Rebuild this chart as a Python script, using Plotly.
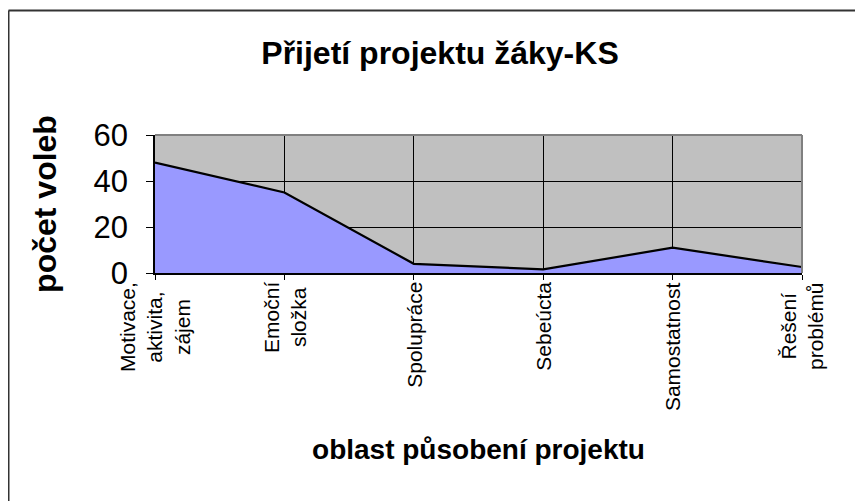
import plotly.graph_objects as go

categories = ["Motivace,<br>aktivita,<br>zájem", "Emoční<br>složka", "Spolupráce",
              "Sebeúcta", "Samostatnost", "Řešení<br>problémů"]
values = [48, 35, 4, 1.6, 11, 2.6]
y_ticks = [0, 20, 40, 60]

W, H = 863, 501
OFF = 8  # page body margin offset
L, R, T, B = 155 - OFF, 863 - 802 + OFF, 135 - OFF, 501 - 273 + OFF
pw, ph = W - L - R, H - T - B


def px_x(fx):
    return (fx - L) / pw


def px_y(fy):
    return ((H - B) - fy) / ph


fig = go.Figure()
fig.add_trace(go.Scatter(
    x=list(range(len(categories))), y=values, mode="lines",
    fill="tozeroy", fillcolor="#9999ff",
    line=dict(color="black", width=2.2), hoverinfo="skip", showlegend=False,
))

font = "Liberation Sans, Arial, sans-serif"

# category labels, rotated, lines centred like the original
annotations = [
    dict(x=i, xref="x", y=0, yref="paper", yshift=-7, text=c, textangle=-90,
         xanchor="center", yanchor="top", align="center", showarrow=False,
         font=dict(size=21, family=font, color="black"))
    for i, c in enumerate(categories)
]

fig.update_layout(
    width=W, height=H,
    margin=dict(l=L, r=R, t=T, b=B, pad=0),
    paper_bgcolor="white", plot_bgcolor="#c0c0c0",
    font=dict(family=font, color="black"),
    title=dict(text="<b>Přijetí projektu žáky-KS</b>", x=(440 - OFF) / W, xanchor="center",
               y=1 - (53 - OFF) / H, yanchor="middle", font=dict(size=32)),
    xaxis=dict(
        range=[0, len(categories) - 1], tickmode="array",
        tickvals=list(range(len(categories))), showticklabels=False,
        showgrid=True, gridcolor="black", gridwidth=1,
        showline=True, linecolor="black", linewidth=2,
        ticks="outside", ticklen=5, tickcolor="black", zeroline=False,
        title=dict(text="<b>oblast působení projektu</b>", font=dict(size=28), standoff=160),
        automargin=False,
    ),
    yaxis=dict(
        range=[0, 60], tickmode="array", tickvals=y_ticks,
        tickfont=dict(size=31), ticklabelstandoff=12,
        showgrid=True, gridcolor="black", gridwidth=1,
        showline=True, linecolor="black", linewidth=1.5,
        ticks="outside", ticklen=7, tickcolor="black", zeroline=False,
        title=dict(text="<b>počet voleb</b>", font=dict(size=32), standoff=27),
        automargin=False,
    ),
    annotations=annotations,
    shapes=[
        # plot area border (top/right)
        dict(type="line", xref="paper", yref="paper", x0=0, x1=1, y0=1, y1=1,
             line=dict(color="#808080", width=2)),
        dict(type="line", xref="paper", yref="paper", x0=1, x1=1, y0=0, y1=1,
             line=dict(color="#808080", width=2)),
        # chart outer border (left/top)
        dict(type="line", xref="paper", yref="paper",
             x0=px_x(0.5), x1=px_x(W + 20), y0=px_y(2.5), y1=px_y(2.5),
             line=dict(color="#333333", width=2)),
        dict(type="line", xref="paper", yref="paper",
             x0=px_x(0.5), x1=px_x(0.5), y0=px_y(2.5), y1=px_y(H + 20),
             line=dict(color="#333333", width=2)),
    ],
)

fig.write_html("out.html")
